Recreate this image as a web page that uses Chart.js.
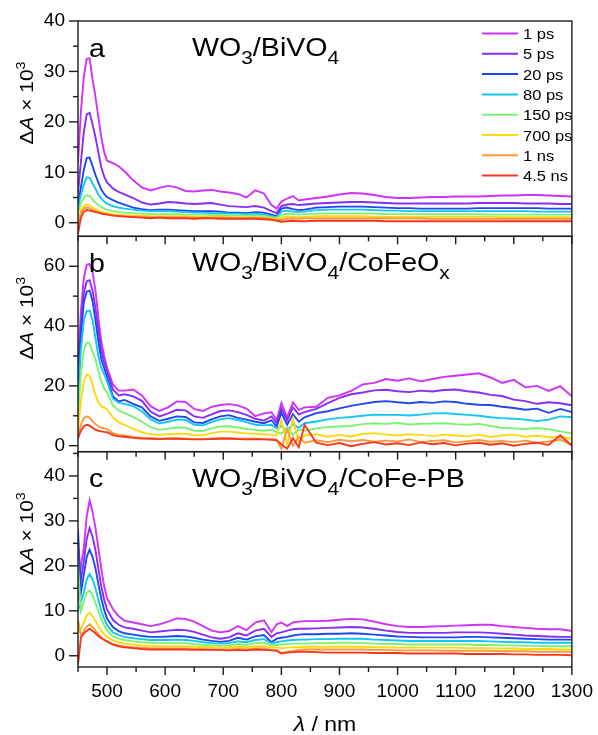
<!DOCTYPE html>
<html>
<head>
<meta charset="utf-8">
<title>Transient absorption spectra</title>
<script src="https://cdn.jsdelivr.net/npm/chart.js@4/dist/chart.umd.min.js"></script>
<style>
  html, body { margin: 0; padding: 0; background: #fff; }
  #wrap { width: 598px; height: 735px; }
</style>
</head>
<body>
<div id="wrap"><canvas id="taChart" width="598" height="735"></canvas></div>
<script>
// probe wavelengths (nm), shared by all spectra
const wavelengths = [450, 455, 460, 465, 470, 475, 480, 485, 490, 495,
  500, 510, 520, 530, 545, 560, 575, 590, 605, 620,
  635, 650, 665, 680, 695, 710, 725, 740, 755, 770,
  783, 792, 800, 810, 820, 830, 840, 860, 880, 900,
  920, 940, 960, 980, 1000, 1020, 1040, 1060, 1080, 1100,
  1120, 1140, 1160, 1180, 1200, 1220, 1240, 1260, 1280, 1300];

const delays = ['1 ps', '5 ps', '20 ps', '80 ps', '150 ps', '700 ps', '1 ns', '4.5 ns'];
const delayColors = ['#d131fa', '#8a2cf5', '#1f48f5', '#12c6f5', '#7df272', '#fcd912', '#fb9a3c', '#f8371c'];

// y ticks per panel
const ticksA = [0, 10, 20, 30, 40];
const ticksB = [0, 20, 40, 60];
const ticksC = [0, 10, 20, 30, 40];
const ticksX = [500, 600, 700, 800, 900, 1000, 1100, 1200, 1300];

// (a) WO3/BiVO4, dA x 10^3
const a_1ps = [12, 22, 29, 32.5, 32.6, 28.5, 25, 21, 17, 14,
  12.3, 11.8, 11.2, 10.2, 8.4, 7.0, 6.4, 6.9, 7.3, 7.0,
  6.3, 6.2, 6.4, 6.5, 6.2, 6.0, 5.7, 5.0, 6.4, 5.8,
  3.5, 2.8, 4.2, 4.8, 5.3, 4.4, 4.6, 4.9, 5.2, 5.6,
  5.9, 5.8, 5.5, 5.1, 4.9, 4.9, 5.0, 5.1, 5.1, 5.2,
  5.2, 5.2, 5.3, 5.4, 5.4, 5.5, 5.5, 5.4, 5.3, 5.2];
const a_5ps = [6, 12, 18, 21.5, 21.8, 19.5, 17, 14, 11, 9.2,
  8.0, 6.8, 6.1, 5.6, 4.9, 4.0, 3.6, 3.8, 4.1, 4.0,
  3.8, 3.7, 3.8, 3.9, 3.6, 3.3, 3.2, 3.1, 3.3, 3.0,
  2.3, 1.9, 3.3, 3.6, 3.7, 3.5, 3.6, 3.8, 3.9, 4.0,
  4.1, 4.1, 4.0, 3.9, 3.8, 3.8, 3.8, 3.8, 3.8, 3.8,
  3.8, 3.9, 3.9, 3.9, 3.9, 3.8, 3.8, 3.8, 3.7, 3.7];
const a_20ps = [3.5, 7, 10.5, 12.8, 12.9, 11.2, 9.5, 8, 6.6, 5.7,
  5.1, 4.5, 4.0, 3.6, 3.0, 2.7, 2.5, 2.6, 2.6, 2.5,
  2.4, 2.3, 2.3, 2.3, 2.2, 2.0, 2.0, 1.9, 2.1, 2.0,
  1.6, 1.3, 2.8, 3.0, 2.7, 2.5, 2.6, 3.0, 3.1, 3.2,
  3.2, 3.2, 3.1, 3.0, 2.9, 2.9, 2.8, 2.8, 2.8, 2.8,
  2.8, 2.9, 2.9, 2.9, 2.9, 2.9, 2.9, 2.8, 2.8, 2.8];
const a_80ps = [3, 5.5, 7.5, 9, 8.9, 7.8, 6.8, 5.6, 4.8, 4.2,
  3.8, 3.3, 3.0, 2.8, 2.6, 2.4, 2.3, 2.3, 2.3, 2.2,
  2.1, 2.0, 2.0, 1.9, 1.9, 1.8, 1.8, 1.7, 1.8, 1.6,
  1.3, 1.1, 2.2, 2.4, 2.2, 2.1, 2.2, 2.5, 2.6, 2.6,
  2.6, 2.6, 2.5, 2.4, 2.4, 2.3, 2.3, 2.3, 2.3, 2.3,
  2.3, 2.3, 2.3, 2.3, 2.3, 2.3, 2.2, 2.2, 2.2, 2.2];
const a_150ps = [2, 3.8, 5, 5.5, 5.3, 4.6, 4.0, 3.5, 3.1, 2.8,
  2.6, 2.3, 2.1, 2.0, 1.9, 1.8, 1.7, 1.7, 1.7, 1.7,
  1.6, 1.6, 1.6, 1.5, 1.5, 1.5, 1.4, 1.4, 1.4, 1.3,
  1.1, 0.9, 1.6, 1.8, 1.7, 1.6, 1.7, 1.8, 1.8, 1.8,
  1.8, 1.8, 1.8, 1.7, 1.7, 1.7, 1.7, 1.7, 1.7, 1.7,
  1.7, 1.7, 1.6, 1.6, 1.6, 1.6, 1.6, 1.6, 1.6, 1.6];
const a_700ps = [0, 2.5, 3.3, 3.6, 3.4, 3.0, 2.7, 2.4, 2.2, 2.0,
  1.9, 1.7, 1.6, 1.5, 1.4, 1.4, 1.3, 1.3, 1.3, 1.3,
  1.3, 1.2, 1.2, 1.2, 1.2, 1.1, 1.1, 1.1, 1.1, 1.0,
  0.9, 0.7, 1.0, 1.2, 1.2, 1.1, 1.2, 1.3, 1.3, 1.3,
  1.3, 1.3, 1.2, 1.2, 1.2, 1.2, 1.2, 1.2, 1.2, 1.2,
  1.2, 1.2, 1.2, 1.1, 1.1, 1.1, 1.1, 1.1, 1.1, 1.1];
const a_1ns = [-1, 2, 2.8, 3.0, 2.9, 2.5, 2.3, 2.1, 1.9, 1.8,
  1.7, 1.5, 1.4, 1.3, 1.2, 1.2, 1.1, 1.1, 1.1, 1.1,
  1.1, 1.0, 1.0, 1.0, 1.0, 1.0, 0.9, 0.9, 1.0, 0.9,
  0.8, 0.5, 0.6, 0.8, 0.9, 0.8, 0.9, 0.9, 0.9, 0.9,
  0.9, 0.9, 0.9, 0.9, 0.9, 0.9, 0.9, 0.8, 0.8, 0.8,
  0.8, 0.8, 0.8, 0.8, 0.8, 0.8, 0.8, 0.8, 0.8, 0.8];
const a_4p5ns = [-2.2, 1, 2.2, 2.5, 2.4, 2.3, 2.1, 2.0, 1.8, 1.7,
  1.6, 1.4, 1.3, 1.2, 1.1, 1.0, 0.9, 1.0, 0.9, 0.9,
  0.9, 0.8, 0.9, 0.9, 0.8, 0.8, 0.8, 0.8, 0.8, 0.7,
  0.6, 0.4, 0.2, 0.3, 0.4, 0.3, 0.3, 0.4, 0.4, 0.4,
  0.4, 0.4, 0.4, 0.3, 0.3, 0.3, 0.3, 0.3, 0.3, 0.3,
  0.3, 0.3, 0.3, 0.3, 0.3, 0.3, 0.3, 0.3, 0.3, 0.3];

// (b) WO3/BiVO4/CoFeOx
const b_1ps = [28, 45, 56, 60.5, 60.8, 58, 52, 43, 35, 30,
  26, 20.5, 18.4, 18.4, 18.8, 16.8, 13.2, 11.6, 12.8, 14.8,
  14.6, 12.3, 11.6, 13.0, 13.6, 13.9, 13.5, 12.4, 9.9, 10.8,
  11.2, 8.5, 14.3, 9.5, 14.5, 12.0, 12.8, 13.0, 16.0, 16.8,
  18.3, 20.5, 21.0, 22.3, 21.7, 22.5, 21.5, 22.3, 23.0, 23.4,
  23.8, 24.2, 22.8, 21.0, 22.0, 19.5, 20.0, 18.3, 19.9, 16.5];
const b_5ps = [24, 40, 51, 55, 55.3, 52, 46, 39, 32, 28,
  25, 18.8, 16.8, 17.2, 16.5, 15.0, 11.4, 9.8, 10.8, 12.0,
  11.8, 9.8, 9.3, 10.5, 11.6, 11.8, 11.2, 10.3, 9.0, 8.4,
  9.8, 7.5, 12.5, 8.5, 12.8, 10.5, 11.2, 12.3, 14.2, 16.0,
  17.2, 17.8, 18.5, 18.7, 18.2, 17.9, 18.4, 18.1, 18.6, 18.8,
  18.2, 17.8, 17.0, 16.6, 15.4, 14.9, 14.0, 14.5, 14.2, 13.5];
const b_20ps = [20, 37, 48, 51.5, 51.9, 48.5, 42, 35, 29, 26,
  23, 16.5, 14.8, 15.3, 14.0, 12.8, 9.8, 8.3, 9.0, 9.8,
  9.6, 7.8, 7.6, 8.8, 9.8, 10.2, 9.3, 8.7, 8.0, 7.5,
  8.5, 6.4, 11.0, 7.0, 10.5, 8.0, 9.5, 10.9, 11.5, 12.5,
  13.3, 14.0, 14.6, 14.9, 14.5, 14.2, 14.6, 14.3, 14.8, 14.6,
  14.0, 13.7, 13.6, 13.0, 12.6, 12.0, 12.4, 11.0, 12.3, 11.2];
const b_80ps = [15, 32, 42, 45, 45.2, 42, 36, 30, 26, 24,
  21.5, 15.8, 14.3, 14.0, 13.2, 11.5, 8.8, 7.4, 8.0, 8.7,
  8.6, 7.0, 6.8, 7.9, 8.8, 9.2, 8.6, 7.9, 7.0, 6.8,
  7.0, 5.8, 6.5, 5.0, 7.2, 6.0, 7.5, 8.1, 8.8, 9.3,
  9.6, 10.0, 10.4, 10.3, 10.3, 10.1, 10.4, 10.8, 10.9, 10.6,
  10.3, 10.0, 9.5, 9.2, 9.0, 8.7, 8.2, 8.7, 9.8, 9.5];
const b_150ps = [10, 24, 32, 34.5, 34.2, 31.5, 29, 25, 21.5, 19.3,
  17.8, 13.5, 11.8, 10.9, 9.6, 8.0, 6.2, 5.3, 5.7, 6.1,
  6.0, 5.0, 4.9, 5.8, 6.4, 6.5, 6.1, 5.6, 5.3, 5.0,
  5.3, 4.5, 4.0, 6.0, 3.5, 5.5, 5.0, 5.8, 6.2, 6.4,
  6.6, 7.2, 7.5, 7.3, 7.6, 7.1, 7.3, 7.4, 7.5, 7.2,
  7.0, 7.3, 6.6, 6.0, 5.8, 5.6, 5.9, 5.5, 4.8, 4.1];
const b_700ps = [5, 15, 21.5, 23.8, 23.3, 20.5, 17, 14.5, 13.3, 12.7,
  12.2, 9.5, 7.8, 7.0, 5.6, 4.5, 3.8, 3.6, 3.8, 4.0,
  4.0, 3.5, 3.5, 4.2, 4.7, 4.7, 4.4, 4.1, 4.0, 3.8,
  3.6, 3.5, 8.5, 0.5, 9.0, 1.0, 3.5, 3.8, 3.0, 3.6,
  3.1, 3.9, 4.2, 3.7, 3.4, 3.8, 3.6, 3.2, 3.7, 3.4,
  3.1, 3.6, 2.9, 3.4, 3.7, 3.0, 3.3, 2.8, 2.9, 2.3];
const b_1ns = [3, 7, 9.3, 9.8, 9.3, 8.2, 7.2, 6.5, 6.0, 5.8,
  5.6, 4.2, 3.6, 3.4, 2.9, 2.6, 2.5, 2.3, 2.4, 2.5,
  2.4, 2.2, 2.2, 2.4, 2.6, 2.6, 2.4, 2.3, 2.3, 2.2,
  2.2, 2.0, -1.0, 5.5, 0.0, 3.0, 1.0, 1.8, 1.2, 2.0,
  1.5, 1.9, 1.3, 1.7, 1.4, 2.1, 1.2, 1.6, 1.8, 1.1,
  1.5, 1.9, 1.3, 1.6, 1.2, 1.7, 1.0, 1.4, 2.0, 0.3];
const b_4p5ns = [2.5, 5, 6.5, 7.0, 6.7, 6.0, 5.4, 5.0, 4.8, 4.6,
  4.5, 3.5, 3.1, 3.0, 2.6, 2.4, 2.3, 2.2, 2.3, 2.3,
  2.2, 2.1, 2.1, 2.2, 2.3, 2.3, 2.2, 2.1, 2.2, 2.1,
  2.0, 1.8, 0.5, -1.0, 2.5, -0.5, 7.0, 1.0, 0.2, 0.9,
  -0.2, 0.6, 1.2, 0.4, 0.8, 0.2, 1.1, 0.5, 0.9, 0.1,
  0.7, 1.0, 0.3, 0.8, 0.0, 0.6, 1.0, 0.2, 3.5, 0.0];

// (c) WO3/BiVO4/CoFe-PB
const c_1ps = [15, 20, 24, 31, 34.6, 32, 28.5, 24, 19.5, 15.5,
  12.8, 10.4, 8.8, 7.8, 7.4, 7.0, 6.6, 7.0, 7.6, 8.3,
  8.2, 7.6, 6.6, 5.6, 5.2, 5.5, 6.6, 5.7, 7.4, 7.9,
  5.3, 7.0, 7.4, 6.6, 7.4, 7.6, 7.7, 7.7, 7.8, 8.0,
  8.2, 8.1, 7.6, 7.0, 6.6, 6.4, 6.4, 6.5, 6.6, 6.7,
  6.8, 6.9, 6.9, 6.6, 6.4, 6.2, 6.0, 5.9, 5.9, 5.5];
const c_5ps = [12, 17, 21, 26, 28.4, 26.5, 23.5, 19.5, 15.5, 12.5,
  10.3, 8.0, 6.9, 6.3, 6.0, 5.6, 5.2, 5.4, 5.6, 5.8,
  5.7, 5.3, 4.7, 4.1, 3.8, 4.1, 5.0, 4.5, 5.6, 6.0,
  4.2, 5.0, 5.2, 5.6, 5.9, 6.0, 6.0, 6.1, 6.2, 6.3,
  6.4, 6.3, 6.0, 5.6, 5.3, 5.1, 5.1, 5.1, 5.1, 5.2,
  5.2, 5.2, 5.1, 4.9, 4.7, 4.5, 4.4, 4.3, 4.2, 4.2];
const c_20ps = [28, 14, 18, 22, 23.6, 22, 19.5, 16, 12.8, 10.2,
  8.3, 6.4, 5.5, 5.0, 4.7, 4.4, 4.2, 4.2, 4.3, 4.4,
  4.3, 4.0, 3.6, 3.3, 3.1, 3.3, 4.0, 3.6, 4.3, 4.6,
  3.0, 3.8, 4.0, 4.2, 4.5, 4.7, 4.8, 4.8, 4.9, 4.9,
  5.0, 4.9, 4.7, 4.5, 4.3, 4.2, 4.1, 4.1, 4.1, 4.1,
  4.2, 4.2, 4.1, 4.0, 3.9, 3.8, 3.7, 3.6, 3.6, 3.6];
const c_80ps = [10, 12, 14, 17, 18.2, 17, 15, 12.5, 10, 8.2,
  6.8, 5.2, 4.6, 4.2, 3.9, 3.7, 3.5, 3.5, 3.5, 3.6,
  3.5, 3.3, 3.0, 2.8, 2.7, 2.8, 3.2, 3.0, 3.5, 3.7,
  2.8, 3.0, 3.2, 3.4, 3.5, 3.6, 3.6, 3.7, 3.7, 3.8,
  3.8, 3.8, 3.6, 3.5, 3.4, 3.3, 3.3, 3.3, 3.3, 3.3,
  3.3, 3.3, 3.2, 3.1, 3.0, 3.0, 2.9, 2.9, 2.9, 2.9];
const c_150ps = [20, 10, 12, 14, 14.5, 13.5, 11.8, 10, 8.2, 6.8,
  5.6, 4.3, 3.8, 3.5, 3.2, 3.0, 2.9, 2.8, 2.8, 2.8,
  2.8, 2.6, 2.4, 2.3, 2.2, 2.3, 2.6, 2.4, 2.8, 2.9,
  2.3, 2.4, 2.5, 2.6, 2.7, 2.7, 2.7, 2.8, 2.8, 2.9,
  2.9, 2.8, 2.7, 2.6, 2.6, 2.5, 2.5, 2.5, 2.5, 2.5,
  2.5, 2.4, 2.4, 2.3, 2.3, 2.2, 2.2, 2.1, 2.1, 2.1];
const c_700ps = [5, 6, 7.5, 9, 9.6, 8.8, 7.8, 6.6, 5.6, 4.8,
  4.2, 3.4, 3.0, 2.7, 2.5, 2.3, 2.2, 2.1, 2.1, 2.1,
  2.1, 2.0, 1.9, 1.9, 1.8, 1.9, 2.0, 1.9, 2.1, 2.1,
  1.9, 1.8, 1.7, 1.8, 1.9, 1.9, 2.0, 2.0, 2.0, 2.0,
  2.0, 2.0, 1.9, 1.9, 1.8, 1.8, 1.8, 1.8, 1.8, 1.8,
  1.7, 1.7, 1.7, 1.6, 1.6, 1.5, 1.5, 1.5, 1.4, 1.4];
const c_1ns = [8, 4.5, 5.5, 6.5, 7.0, 6.4, 5.6, 4.8, 4.1, 3.6,
  3.2, 2.6, 2.3, 2.1, 1.9, 1.8, 1.7, 1.6, 1.6, 1.6,
  1.6, 1.5, 1.5, 1.4, 1.4, 1.4, 1.5, 1.4, 1.6, 1.6,
  1.3, 1.3, 0.6, 0.9, 1.1, 1.3, 1.4, 1.4, 1.4, 1.4,
  1.4, 1.4, 1.3, 1.3, 1.2, 1.2, 1.2, 1.2, 1.1, 1.1,
  1.1, 1.1, 1.1, 1.0, 1.0, 1.0, 0.9, 0.9, 0.9, 0.9];
const c_4p5ns = [-2, 4, 5, 5.5, 6.0, 5.5, 5.0, 4.4, 3.9, 3.5,
  3.2, 2.5, 2.1, 1.9, 1.7, 1.5, 1.4, 1.4, 1.4, 1.4,
  1.4, 1.3, 1.3, 1.3, 1.3, 1.2, 1.3, 1.2, 1.4, 1.3,
  1.2, 1.1, 0.5, 0.7, 0.8, 0.9, 0.9, 0.8, 0.7, 0.7,
  0.7, 0.7, 0.6, 0.6, 0.6, 0.5, 0.5, 0.5, 0.5, 0.5,
  0.4, 0.4, 0.4, 0.4, 0.3, 0.3, 0.2, 0.2, 0.2, 0.1];

const FONT = "'Liberation Sans', Arial, Helvetica, sans-serif";
const INK = '#1c1c1c';
const STRETCH = 1.1;

const panels = [
  { id: 'ya', letter: 'a', sub: [['WO'], ['3', true], ['/BiVO'], ['4', true]],
    ticks: ticksA, minorStep: 5, series: [a_1ps, a_5ps, a_20ps, a_80ps, a_150ps, a_700ps, a_1ns, a_4p5ns] },
  { id: 'yb', letter: 'b', sub: [['WO'], ['3', true], ['/BiVO'], ['4', true], ['/CoFeO'], ['x', true]],
    ticks: ticksB, minorStep: 10, series: [b_1ps, b_5ps, b_20ps, b_80ps, b_150ps, b_700ps, b_1ns, b_4p5ns] },
  { id: 'yc', letter: 'c', sub: [['WO'], ['3', true], ['/BiVO'], ['4', true], ['/CoFe-PB']],
    ticks: ticksC, minorStep: 5, series: [c_1ps, c_5ps, c_20ps, c_80ps, c_150ps, c_700ps, c_1ns, c_4p5ns] }
];

const datasets = [];
panels.forEach(p => {
  p.series.forEach((vals, i) => {
    datasets.push({
      label: delays[i],
      yAxisID: p.id,
      data: wavelengths.map((w, k) => ({ x: w, y: vals[k] })),
      borderColor: delayColors[i],
      borderWidth: 1.9,
      pointRadius: 0,
      tension: 0,
      order: delays.length - i
    });
  });
});

// draw a run of text pieces: [text, size, italic, dy]
function drawRuns(ctx, runs, x, y, align) {
  ctx.save();
  ctx.translate(x, y);
  ctx.scale(STRETCH, 1);
  let total = 0;
  runs.forEach(r => {
    ctx.font = (r[2] ? 'italic ' : '') + r[1] + 'px ' + FONT;
    total += ctx.measureText(r[0]).width;
  });
  let cx = align === 'center' ? -total / 2 : 0;
  ctx.textBaseline = 'alphabetic';
  ctx.textAlign = 'left';
  runs.forEach(r => {
    ctx.font = (r[2] ? 'italic ' : '') + r[1] + 'px ' + FONT;
    ctx.fillText(r[0], cx, r[3] || 0);
    cx += ctx.measureText(r[0]).width;
  });
  ctx.restore();
}

function seg(ctx, x1, y1, x2, y2) {
  ctx.beginPath();
  ctx.moveTo(x1, y1);
  ctx.lineTo(x2, y2);
  ctx.stroke();
}

const panelFrame = {
  id: 'panelFrame',
  afterDraw(chart) {
    const { ctx, chartArea, scales } = chart;
    const xs = scales.x;
    ctx.save();
    ctx.strokeStyle = INK;
    ctx.fillStyle = INK;
    ctx.lineWidth = 1.4;
    panels.forEach(p => {
      const ys = scales[p.id];
      ctx.strokeStyle = INK;
      ctx.lineWidth = 1.4;
      ctx.strokeRect(chartArea.left, ys.top, chartArea.right - chartArea.left, ys.bottom - ys.top);

      // x ticks, pointing out of the bottom edge
      for (let w = 450; w <= 1300; w += 50) {
        const px = xs.getPixelForValue(w);
        seg(ctx, px, ys.bottom, px, ys.bottom + (w % 100 === 0 ? 8 : 5));
      }
      // y ticks, major and minor, pointing left
      p.ticks.forEach(v => {
        const py = ys.getPixelForValue(v);
        seg(ctx, chartArea.left - 9, py, chartArea.left, py);
        const m = v + p.minorStep;
        if (m < ys.max) {
          const pm = ys.getPixelForValue(m);
          seg(ctx, chartArea.left - 5, pm, chartArea.left, pm);
        }
      });

      // panel letter and sample name
      ctx.fillStyle = '#000';
      drawRuns(ctx, [[p.letter, 26]], 89, ys.top + 35.5);
      drawRuns(ctx, p.sub.map(s => s[1] ? [s[0], 19, false, 8] : [s[0], 26]), 192, ys.top + 35);

      // axis title, rotated
      ctx.save();
      ctx.translate(33, ys.top + 82);
      ctx.rotate(-Math.PI / 2);
      drawRuns(ctx, [['\u0394', 19], ['A', 19, true], [' \u00d7 10', 19], ['3', 13, false, -8]], 0, 0, 'center');
      ctx.restore();
    });

    // legend inside panel a
    const top = scales.ya.top;
    delays.forEach((d, i) => {
      const ly = top + 12.5 + i * 20.3;
      ctx.strokeStyle = delayColors[i];
      ctx.lineWidth = 2;
      seg(ctx, 482, ly, 518, ly);
      ctx.fillStyle = '#000';
      drawRuns(ctx, [[d, 15]], 523, ly + 5.5);
    });

    // x axis title
    drawRuns(ctx, [['\u03bb', 21, true], [' / nm', 21]], 325, 731, 'center');
    ctx.restore();
  }
};

function yAxis(id, weight, min, max, step) {
  return {
    type: 'linear',
    position: 'left',
    stack: 'panels',
    stackWeight: 1,
    weight: weight,
    min: min,
    max: max,
    afterFit: s => { s.width = 78; },
    border: { display: false },
    grid: { drawOnChartArea: false, drawTicks: true, tickLength: 9, color: 'rgba(0,0,0,0)' },
    ticks: {
      stepSize: step,
      includeBounds: false,
      padding: 4,
      color: '#000',
      font: { family: FONT, size: 19 },
      callback: v => String(v)
    }
  };
}

new Chart(document.getElementById('taChart'), {
  type: 'line',
  data: { datasets: datasets },
  options: {
    responsive: false,
    animation: false,
    devicePixelRatio: 1,
    layout: { padding: { top: 21, right: 21, left: 0, bottom: 0 } },
    plugins: { legend: { display: false }, tooltip: { enabled: false } },
    scales: {
      x: {
        type: 'linear',
        min: 450,
        max: 1300,
        afterFit: s => { s.height = 68; },
        afterBuildTicks: s => { s.ticks = ticksX.map(v => ({ value: v })); },
        border: { display: false },
        grid: { drawOnChartArea: false, drawTicks: true, tickLength: 8, color: 'rgba(0,0,0,0)' },
        ticks: {
          padding: 5,
          color: '#000',
          maxRotation: 0,
          font: { family: FONT, size: 19 },
          callback: v => String(v)
        }
      },
      ya: yAxis('ya', 3, -2.7, 40, 10),
      yb: yAxis('yb', 2, -2, 70, 20),
      yc: yAxis('yc', 1, -2.5, 45.4, 10)
    }
  },
  plugins: [panelFrame]
});
</script>
</body>
</html>
